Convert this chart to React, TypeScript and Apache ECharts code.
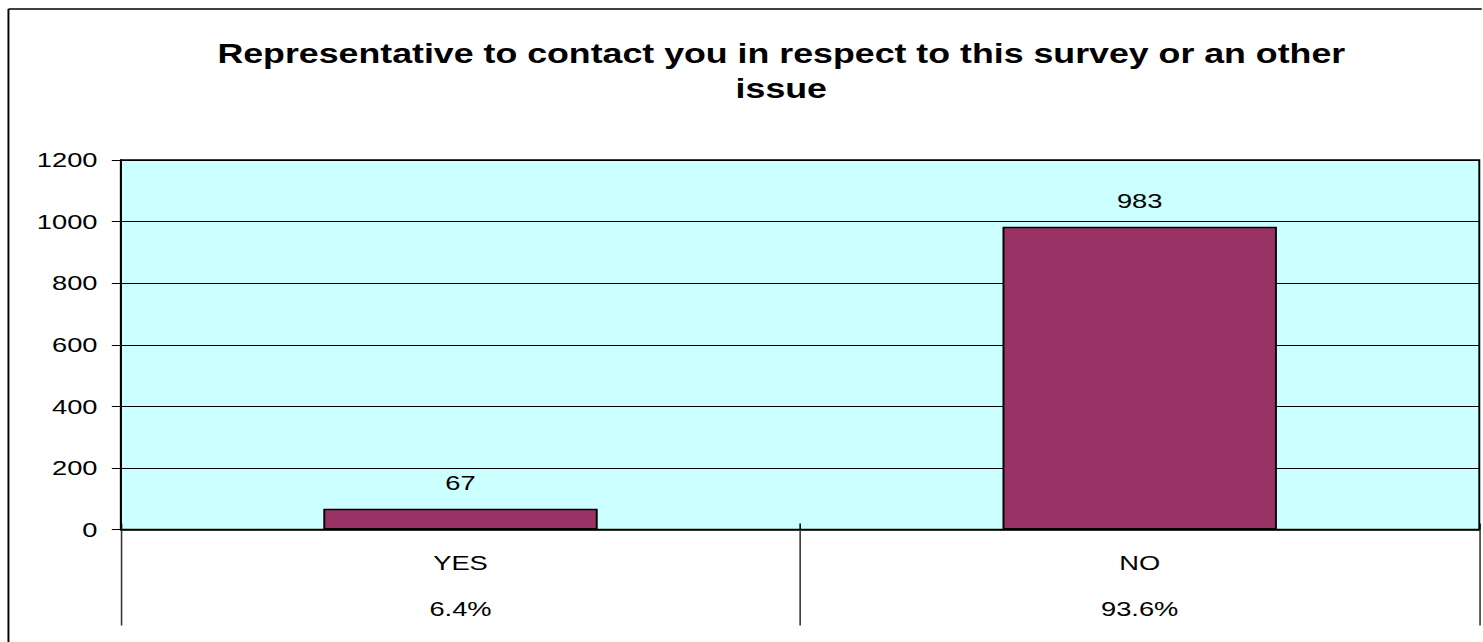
import React, { useEffect, useRef } from "react";
import * as echarts from "echarts";

const titleText = "Representative to contact you in respect to this survey or an other\nissue";
const categories = ["YES", "NO"];
const percentages = ["6.4%", "93.6%"];
const counts = [67, 983];
const yMin = 0;
const yMax = 1200;
const yInterval = 200;

const STRETCH = 1.3;
const FULL_W = 1483;
const FULL_H = 642;
const CHART_W = FULL_W / STRETCH;
const PLOT_RIGHT_PX = 1479;
const FONT = "'Liberation Sans', Arial, Helvetica, sans-serif";

export default function App() {
  const ref = useRef<HTMLDivElement>(null);
  useEffect(() => {
    if (!ref.current) return;
    const chart = echarts.init(ref.current, null, { renderer: "svg" });
    chart.setOption({
      animation: false,
      backgroundColor: "#ffffff",
      title: {
        text: titleText,
        left: 596,
        top: 31,
        textAlign: "center",
        textStyle: {
          fontFamily: FONT,
          fontSize: 27.5,
          fontWeight: "bold",
          color: "#000",
          lineHeight: 35,
        },
      },
      graphic: [
        {
          type: "line",
          shape: { x1: 6.5, y1: 9, x2: 6.5, y2: FULL_H },
          style: { stroke: "#000", lineWidth: 1.5 },
          silent: true,
        },
        {
          type: "line",
          shape: { x1: 6.5, y1: 9, x2: CHART_W - 1, y2: 9 },
          style: { stroke: "#000", lineWidth: 1.5 },
          silent: true,
        },
      ],
      grid: {
        left: 93,
        right: CHART_W - PLOT_RIGHT_PX / STRETCH,
        top: 160,
        bottom: 112.5,
        show: true,
        backgroundColor: "#CCFFFF",
        borderColor: "#000",
        borderWidth: 1.5,
        containLabel: false,
        outerBoundsMode: "none",
      },
      xAxis: [
        {
          type: "category",
          data: categories,
          boundaryGap: true,
          axisLine: { show: true, lineStyle: { color: "#000", width: 1.5 } },
          axisTick: {
            show: true,
            length: 96,
            lineStyle: { color: "#333", width: 1.2 },
          },
          axisLabel: {
            margin: 10,
            formatter: (value: string, idx: number) =>
              `{a|${value}}\n{b|${percentages[idx]}}`,
            rich: {
              a: { fontFamily: FONT, fontSize: 21, color: "#000", lineHeight: 46 },
              b: { fontFamily: FONT, fontSize: 21, color: "#000", lineHeight: 46 },
            },
          },
          splitLine: { show: false },
        },
        {
          type: "category",
          data: categories,
          position: "bottom",
          boundaryGap: true,
          axisLine: { show: false },
          axisTick: {
            show: true,
            inside: true,
            length: 6,
            lineStyle: { color: "#000", width: 1.2 },
          },
          axisLabel: { show: false },
          splitLine: { show: false },
        },
      ],
      yAxis: {
        type: "value",
        min: yMin,
        max: yMax,
        interval: yInterval,
        axisLine: { show: true, lineStyle: { color: "#000", width: 1.5 } },
        axisTick: { show: true, length: 7, lineStyle: { color: "#000", width: 1 } },
        axisLabel: {
          margin: 18,
          fontFamily: FONT,
          fontSize: 21,
          color: "#000",
          formatter: (v: number) => String(v),
        },
        splitLine: { show: true, lineStyle: { color: "#000", width: 1 } },
      },
      series: [
        {
          type: "bar",
          data: counts,
          barWidth: "40.4%",
          itemStyle: { color: "#993366", borderColor: "#000", borderWidth: 1.5 },
          label: {
            show: true,
            position: "top",
            distance: 16,
            fontFamily: FONT,
            fontSize: 21,
            lineHeight: 21,
            color: "#000",
          },
        },
      ],
    });
    return () => chart.dispose();
  }, []);
  return (
    <div
      ref={ref}
      style={{
        position: "fixed",
        left: 0,
        top: 0,
        width: CHART_W,
        height: FULL_H,
        overflow: "hidden",
        transform: `scaleX(${STRETCH})`,
        transformOrigin: "0 0",
      }}
    />
  );
}
